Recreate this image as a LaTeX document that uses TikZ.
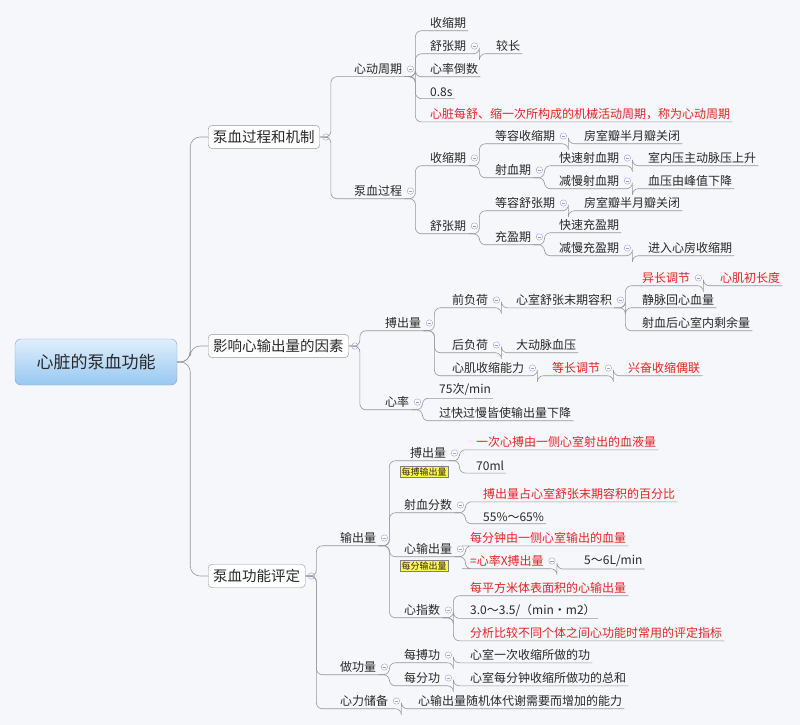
\documentclass[tikz,border=0pt]{standalone}
\usepackage{fontspec}
\setmainfont{Noto Sans CJK SC}
\usetikzlibrary{calc}
\definecolor{bg}{RGB}{246,247,251}
\definecolor{lnk}{RGB}{150,150,155}
\definecolor{rd}{RGB}{225,35,35}
\definecolor{tx}{RGB}{40,40,40}
\tikzset{
 t/.style={anchor=west,inner sep=2pt,text=tx,font=\fontsize{12}{14}\selectfont},
 r/.style={t,text=rd},
 box/.style={draw=lnk,rounded corners=4pt,fill=white,inner sep=5pt,anchor=west,text=tx,font=\fontsize{14.5}{16}\selectfont},
 yel/.style={draw=gray,fill=yellow!70,inner sep=1.5pt,font=\fontsize{9}{10}\selectfont,text=tx},
 link/.style={draw=lnk,line width=0.6pt,rounded corners=6pt},
 icon/.style={draw=lnk!60!blue!60,fill=white,line width=0.4pt}
}
\newcommand\kids[3]{%
 \draw[icon] ($(#1.east)+(6,0)$) circle (3.2);
 \draw[lnk!60!blue!60,line width=0.4pt] ($(#1.east)+(4.3,0)$) -- ++(3.4,0);
 \foreach \c in {#3}{\draw[link] (#2) -- ++(11,0) |- (\c.south west) -- (\c.south east);}}
\begin{document}
\begin{tikzpicture}[x=1pt,y=-1pt]
\fill[bg] (0,0) rectangle (800,725);
\useasboundingbox (0,0) rectangle (800,725);
\node[draw={rgb,255:red,130;green,165;blue,200},rounded corners=6pt,top color={rgb,255:red,225;green,238;blue,252},bottom color={rgb,255:red,150;green,200;blue,242},minimum width=162pt,minimum height=46pt,font=\fontsize{17}{19}\selectfont,text=tx] (root) at (96,362) {心脏的泵血功能};
\node[box] (A) at (208,137) {泵血过程和机制};
\node[box] (B) at (208,346) {影响心输出量的因素};
\node[box] (C) at (208,576) {泵血功能评定};
\foreach \c in {A,B,C}{\draw[link,rounded corners=10pt] (root.east) -- ++(13,0) |- (\c.west);}
% branch A
\node[t] (a1) at (352,69) {心动周期};
\node[t] (a2) at (352,191) {泵血过程};
\node[t] (a11) at (428,23) {收缩期};
\node[t] (a12) at (428,46) {舒张期};
\node[t] (a121) at (494,46) {较长};
\node[t] (a13) at (428,69) {心率倒数};
\node[t] (a14) at (428,92) {0.8s};
\node[r] (a15) at (428,114) {心脏每舒、缩一次所构成的机械活动周期，称为心动周期};
\node[t] (b1) at (428,158) {收缩期};
\node[t] (b11) at (493,136) {等容收缩期};
\node[t] (b111) at (582,136) {房室瓣半月瓣关闭};
\node[t] (b12) at (493,170) {射血期};
\node[t] (b121) at (557,158) {快速射血期};
\node[t] (b1211) at (646,158) {室内压主动脉压上升};
\node[t] (b122) at (557,181) {减慢射血期};
\node[t] (b1221) at (646,181) {血压由峰值下降};
\node[t] (b2) at (428,226) {舒张期};
\node[t] (b21) at (493,203) {等容舒张期};
\node[t] (b211) at (582,203) {房室瓣半月瓣关闭};
\node[t] (b22) at (493,237) {充盈期};
\node[t] (b221) at (557,225) {快速充盈期};
\node[t] (b222) at (557,248) {减慢充盈期};
\node[t] (b2221) at (646,248) {进入心房收缩期};
\kids{A}{A.east}{a1,a2}
\kids{a1}{a1.south east}{a11,a12,a13,a14,a15}
\kids{a12}{a12.south east}{a121}
\kids{a2}{a2.south east}{b1,b2}
\kids{b1}{b1.south east}{b11,b12}
\kids{b11}{b11.south east}{b111}
\kids{b12}{b12.south east}{b121,b122}
\kids{b121}{b121.south east}{b1211}
\kids{b122}{b122.south east}{b1221}
\kids{b2}{b2.south east}{b21,b22}
\kids{b21}{b21.south east}{b211}
\kids{b22}{b22.south east}{b221,b222}
\kids{b222}{b222.south east}{b2221}
% branch B
\node[t] (c1) at (383,323) {搏出量};
\node[t] (c11) at (450,300) {前负荷};
\node[t] (c111) at (514,300) {心室舒张末期容积};
\node[r] (c1111) at (640,278) {异长调节};
\node[r] (c11111) at (718,278) {心肌初长度};
\node[t] (c1112) at (640,300) {静脉回心血量};
\node[t] (c1113) at (640,323) {射血后心室内剩余量};
\node[t] (c12) at (450,345) {后负荷};
\node[t] (c121) at (514,345) {大动脉血压};
\node[t] (c13) at (450,368) {心肌收缩能力};
\node[r] (c131) at (550,368) {等长调节};
\node[r] (c1311) at (626,368) {兴奋收缩偶联};
\node[t] (c2) at (383,402) {心率};
\node[t] (c21) at (437,390) {75次/min};
\node[t] (c22) at (437,413) {过快过慢皆使输出量下降};
\kids{B}{B.east}{c1,c2}
\kids{c1}{c1.south east}{c11,c12,c13}
\kids{c11}{c11.south east}{c111}
\kids{c111}{c111.south east}{c1111,c1112,c1113}
\kids{c1111}{c1111.south east}{c11111}
\kids{c12}{c12.south east}{c121}
\kids{c13}{c13.south east}{c131}
\kids{c131}{c131.south east}{c1311}
\kids{c2}{c2.south east}{c21,c22}
% branch C
\node[t] (d1) at (338,538) {输出量};
\node[t] (d11) at (408,453) {搏出量};
\node[yel,anchor=west] (y1) at (400,472) {每搏输出量};
\node[r] (d111) at (474,442) {一次心搏由一侧心室射出的血液量};
\node[t] (d112) at (474,466) {70ml};
\node[t] (d12) at (402,505) {射血分数};
\node[r] (d121) at (481,494) {搏出量占心室舒张末期容积的百分比};
\node[t] (d122) at (481,517) {55\%～65\%};
\node[t] (d13) at (402,549) {心输出量};
\node[yel,anchor=west] (y2) at (400,566) {每分输出量};
\node[r] (d131) at (468,538) {每分钟由一侧心室输出的血量};
\node[r] (d132) at (468,561) {=心率X搏出量};
\node[t] (d1321) at (582,561) {5～6L/min};
\node[t] (d14) at (402,610) {心指数};
\node[r] (d141) at (468,588) {每平方米体表面积的心输出量};
\node[t] (d142) at (468,610) {3.0～3.5/（min•m2）};
\node[r] (d143) at (468,633) {分析比较不同个体之间心功能时常用的评定指标};
\node[t] (d2) at (338,667) {做功量};
\node[t] (d21) at (402,655) {每搏功};
\node[t] (d211) at (468,655) {心室一次收缩所做的功};
\node[t] (d22) at (402,678) {每分功};
\node[t] (d221) at (468,678) {心室每分钟收缩所做功的总和};
\node[t] (d3) at (338,701) {心力储备};
\node[t] (d31) at (416,701) {心输出量随机体代谢需要而增加的能力};
\kids{C}{C.east}{d1,d2,d3}
\kids{d1}{d1.south east}{d11,d12,d13,d14}
\kids{d11}{d11.south east}{d111,d112}
\kids{d12}{d12.south east}{d121,d122}
\kids{d13}{d13.south east}{d131,d132}
\kids{d132}{d132.south east}{d1321}
\kids{d14}{d14.south east}{d141,d142,d143}
\kids{d2}{d2.south east}{d21,d22}
\kids{d21}{d21.south east}{d211}
\kids{d22}{d22.south east}{d221}
\kids{d3}{d3.south east}{d31}
\end{tikzpicture}
\end{document}
